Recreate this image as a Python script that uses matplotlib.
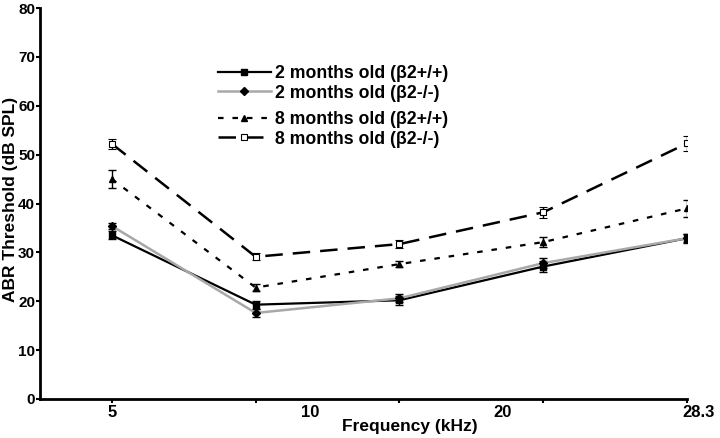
import matplotlib
matplotlib.use("Agg")
import matplotlib.pyplot as plt
from matplotlib.lines import Line2D

plt.rcParams['font.family'] = ['Liberation Sans', 'DejaVu Sans']

# Data
positions = [0, 1, 2, 3, 4]
tick_labels = ["5", "10", "20", "28.3"]
tick_label_pos = [0, 1.38, 2.72, 4.08]

labels = ["2 months old (β2+/+)", "2 months old (β2-/-)",
          "8 months old (β2+/+)", "8 months old (β2-/-)"]
m2_wt = [33.5, 19.3, 20.2, 27.1, 32.9]
m2_wt_err = [0.8, 0.8, 0.9, 1.1, 0.9]
m2_ko = [35.4, 17.6, 20.6, 27.8, 32.9]
m2_ko_err = [0.7, 0.9, 0.8, 1.0, 0.8]
m8_wt = [45.0, 22.8, 27.6, 32.1, 39.0]
m8_wt_err = [1.9, 0.8, 0.6, 1.0, 1.8]
m8_ko = [52.2, 29.1, 31.7, 38.2, 52.3]
m8_ko_err = [1.0, 0.7, 0.8, 1.1, 1.5]

fig = plt.figure(figsize=(7.2, 4.38), dpi=100)
ax = fig.add_axes([40/720, 1-399/438, (687-40)/720, (399-8)/438])

common = dict(capsize=3, elinewidth=1.0, capthick=1.0, ecolor='black')
ax.errorbar(positions, m2_wt, yerr=m2_wt_err, color='black', lw=1.6,
            marker='s', ms=4.5, mfc='black', mec='black', **common)
ax.errorbar(positions, m2_ko, yerr=m2_ko_err, color='#a8a8a8', lw=1.8,
            marker='D', ms=4, mfc='black', mec='black', **common)
ax.errorbar(positions, m8_wt, yerr=m8_wt_err, color='black', lw=1.6,
            dashes=(2.5, 4), marker='^', ms=5, mfc='black', mec='black', **common)
ax.errorbar(positions, m8_ko, yerr=m8_ko_err, color='black', lw=1.8,
            dashes=(7, 4), marker='s', ms=4.5, mfc='white', mec='black', mew=0.8, **common)

ax.set_xlim(-0.5, 4)
ax.set_ylim(0, 80)
ax.set_yticks(range(0, 81, 10))
ax.set_xticks(positions)
ax.set_xticklabels([])
for lbl, p in zip(tick_labels, tick_label_pos):
    ax.text(p, -0.016, lbl, transform=ax.get_xaxis_transform(), ha='center', va='top',
            fontsize=12, fontweight='bold', clip_on=False)
ax.text(2.07, -0.052, "Frequency (kHz)", transform=ax.get_xaxis_transform(), ha='center',
        va='top', fontsize=12.5, fontweight='bold')

fig.text(11/720, 1-199/438, "ABR Threshold (dB SPL)", rotation=90, ha='center', va='center',
         fontsize=12.5, fontweight='bold')
for t in ax.get_yticklabels():
    t.set_fontweight('bold')
    t.set_fontsize(11)

ax.spines['top'].set_visible(False)
ax.spines['right'].set_visible(False)
ax.spines['left'].set_linewidth(2)
ax.spines['bottom'].set_linewidth(2)
ax.tick_params(axis='both', direction='out', length=3, width=1.5, pad=0.5)

h1 = Line2D([], [], color='black', lw=1.6, marker='s', ms=4.5, mfc='black')
h2 = Line2D([], [], color='#a8a8a8', lw=1.8, marker='D', ms=4, mfc='black', mec='black')
h3 = Line2D([], [], color='black', lw=1.6, dashes=(2.5, 4), marker='^', ms=5, mfc='black')
h4 = Line2D([], [], color='black', lw=1.8, dashes=(7, 4), marker='s', ms=4.5, mfc='white', mec='black', mew=0.8)

leg_kw = dict(frameon=False, handlelength=3.0, handletextpad=0.25, labelspacing=0.15,
              prop={'weight': 'bold', 'size': 12.7}, borderpad=0, borderaxespad=0)
leg1 = ax.legend([h1, h2], labels[:2], loc='upper left',
                 bbox_to_anchor=((218-40)/647, (399-65)/391), **leg_kw)
ax.add_artist(leg1)
ax.legend([h3, h4], labels[2:], loc='upper left',
          bbox_to_anchor=((218-40)/647, (399-111)/391), **leg_kw)

fig.savefig("out.png", dpi=100)
